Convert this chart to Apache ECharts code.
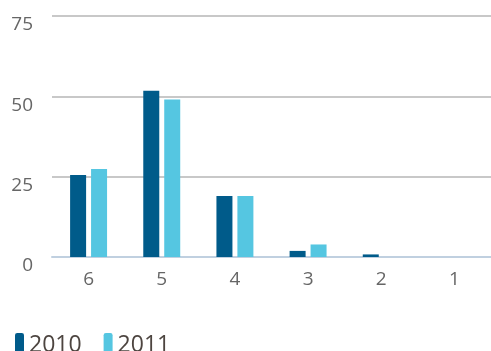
<!DOCTYPE html>
<html>
<head>
<meta charset="utf-8">
<style>html,body{margin:0;padding:0;background:#fff;}#chart{width:491px;height:351px;}</style>
<script src="https://cdn.jsdelivr.net/npm/echarts@6/dist/echarts.min.js"></script>
</head>
<body>
<div id="chart"></div>
<script>
const categories = ['6', '5', '4', '3', '2', '1'];
const series2010 = [25.5, 51.7, 19, 1.9, 0.8, 0];
const series2011 = [27.4, 49, 19, 3.9, 0, 0];
const yTicks = { min: 0, max: 75, interval: 25 };

const chart = echarts.init(document.getElementById('chart'));
chart.setOption({
  animation: false,
  color: ['#005b8a', '#55c6e1'],
  grid: { left: 52, top: 16, width: 442, height: 241, containLabel: false },
  legend: {
    left: 10, top: 328,
    icon: 'roundRect', itemWidth: 9, itemHeight: 24, itemGap: 22,
    textStyle: { fontFamily: 'Open Sans', fontSize: 23, color: '#4d4540' },
    data: ['2010', '2011']
  },
  xAxis: {
    type: 'category', data: categories,
    axisLine: { lineStyle: { color: '#c0d0e0', width: 2 } },
    axisTick: { alignWithLabel: true, length: 8, lineStyle: { color: '#c0d0e0', width: 2 } },
    axisLabel: { margin: 13, fontFamily: 'Open Sans', fontSize: 19, color: '#666666' }
  },
  yAxis: {
    type: 'value', min: yTicks.min, max: yTicks.max, interval: yTicks.interval,
    axisLine: { show: false }, axisTick: { show: false },
    splitLine: { lineStyle: { color: '#c8c8c8', width: 2 } },
    axisLabel: { margin: 19, fontFamily: 'Open Sans', fontSize: 19, color: '#666666', verticalAlign: 'top', lineHeight: 18 }
  },
  series: [
    { name: '2010', type: 'bar', data: series2010, barWidth: 16, barGap: '31%' },
    { name: '2011', type: 'bar', data: series2011, barWidth: 16, barGap: '31%' }
  ]
});
</script>
</body>
</html>
